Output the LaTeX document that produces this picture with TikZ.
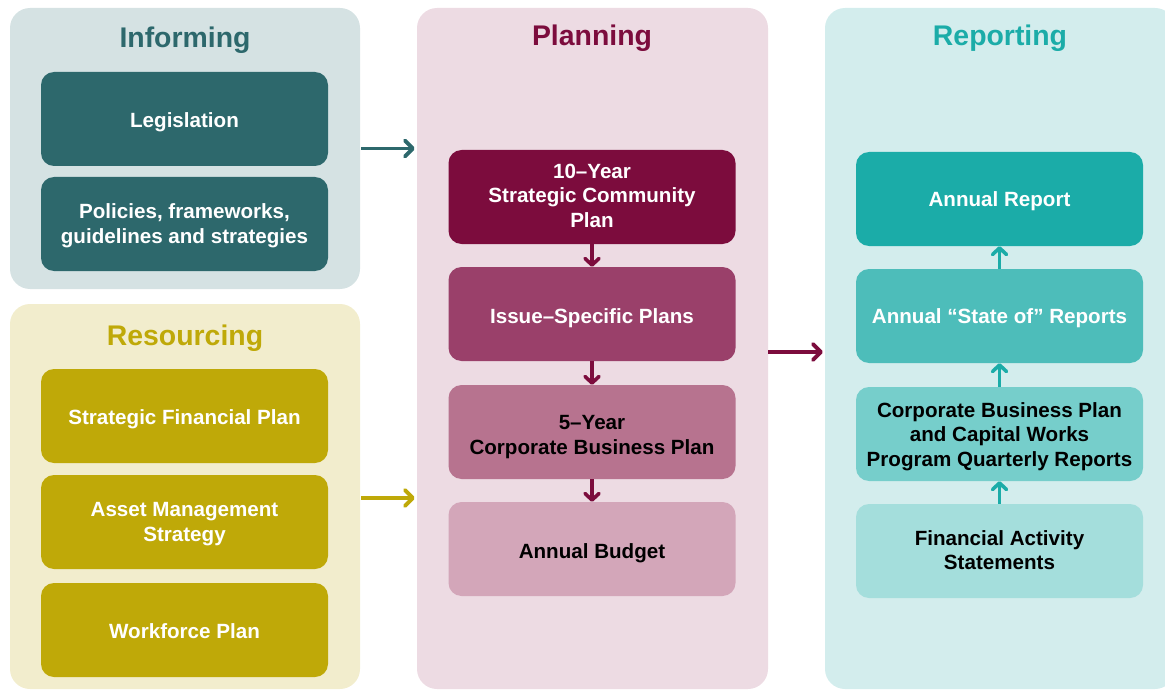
\documentclass[tikz,border=0pt]{standalone}
\usepackage{fontspec}
\setmainfont{Liberation Sans}
\usetikzlibrary{arrows.meta}
\definecolor{infbg}{HTML}{D5E2E3}
\definecolor{infbox}{HTML}{2D686C}
\definecolor{resbg}{HTML}{F2EDCD}
\definecolor{resbox}{HTML}{BFA908}
\definecolor{planbg}{HTML}{EDDBE3}
\definecolor{planA}{HTML}{7C0C3D}
\definecolor{planB}{HTML}{9A406A}
\definecolor{planC}{HTML}{B7738F}
\definecolor{planD}{HTML}{D3A6B9}
\definecolor{repbg}{HTML}{D3EDED}
\definecolor{repA}{HTML}{1BACA8}
\definecolor{repB}{HTML}{4DBDBA}
\definecolor{repC}{HTML}{76CECB}
\definecolor{repD}{HTML}{A4DEDC}
\newcommand\bt[2][3.5pt]{\raisebox{-#1}[\height][\depth]{\begin{tabular}{@{}c@{}}#2\end{tabular}}}
\tikzset{
  panel/.style={rectangle, rounded corners=20pt, inner sep=0pt, minimum width=350pt},
  ttl/.style={font=\fontsize{28.4}{30}\selectfont\bfseries, inner sep=0pt},
  itembox/.style={rectangle, rounded corners=13pt, minimum width=287pt, minimum height=94pt,
     inner sep=0pt, align=center, font=\fontsize{20.6}{24.5}\selectfont\bfseries},
  bigarrow/.style={line width=3.6pt, -{Straight Barb[length=8pt,width=16pt,line width=3.8pt,round]}},
  smallarrow/.style={line width=3.4pt, -{Straight Barb[length=6.5pt,width=14pt,line width=3.6pt,round]}}
}
\begin{document}
\begin{tikzpicture}[x=1pt,y=-1pt]
\useasboundingbox (0,0) rectangle (1165,690);
\clip (0,0) rectangle (1165,690);
% panels
\node[panel, fill=infbg, minimum height=281pt] (inf) at (185,148.5) {};
\node[panel, fill=resbg, minimum height=385pt] (res) at (185,496.5) {};
\node[panel, fill=planbg, minimum width=351pt, minimum height=681pt] (plan) at (592.5,348.5) {};
\node[panel, fill=repbg, minimum height=681pt] (rep) at (1000,348.5) {};
% titles
\node[ttl, text=infbox] (tinf) at (185,40) {Informing};
\node[ttl, text=resbox] (tres) at (185,338) {Resourcing};
\node[ttl, text=planA] (tplan) at (592,38) {Planning};
\node[ttl, text=repA] (trep) at (1000,38) {Reporting};
% informing
\node[itembox, fill=infbox, text=white] (leg) at (184.5,119) {\bt{Legislation}};
\node[itembox, fill=infbox, text=white] (pol) at (184.5,224) {\bt[2pt]{Policies, frameworks,\\guidelines and strategies}};
% resourcing
\node[itembox, fill=resbox, text=white] (sfp) at (184.5,416) {\bt{Strategic Financial Plan}};
\node[itembox, fill=resbox, text=white] (ams) at (184.5,522) {\bt[2pt]{Asset Management\\Strategy}};
\node[itembox, fill=resbox, text=white] (wfp) at (184.5,630) {\bt{Workforce Plan}};
% planning
\node[itembox, fill=planA, text=white] (p1) at (592,197) {\bt[1pt]{10--Year\\Strategic Community\\Plan}};
\node[itembox, fill=planB, text=white] (p2) at (592,314) {\bt[4.5pt]{Issue--Specific Plans}};
\node[itembox, fill=planC, text=black] (p3) at (592,432) {\bt[5pt]{5--Year\\Corporate Business Plan}};
\node[itembox, fill=planD, text=black] (p4) at (592,549) {\bt[4.5pt]{Annual Budget}};
% reporting
\node[itembox, fill=repA, text=white] (r1) at (999.5,199) {\bt[3pt]{Annual Report}};
\node[itembox, fill=repB, text=white] (r2) at (999.5,316) {\bt[3pt]{Annual “State of” Reports}};
\node[itembox, fill=repC, text=black] (r3) at (999.5,434) {\bt[3pt]{Corporate Business Plan\\and Capital Works\\Program Quarterly Reports}};
\node[itembox, fill=repD, text=black] (r4) at (999.5,551) {\bt[1.5pt]{Financial Activity\\Statements}};
% connectors between panels
\draw[bigarrow, draw=infbox] ([xshift=1pt]inf.east) -- ([xshift=-2pt]plan.west |- inf.east);
\draw[bigarrow, draw=resbox] ([xshift=1pt,yshift=-1.5pt]res.east) -- ([xshift=-2pt,yshift=-1.5pt]plan.west |- res.east);
\draw[bigarrow, draw=planA] ([yshift=-3.5pt]plan.east) -- ([xshift=-2pt,yshift=-3.5pt]rep.west |- plan.east);
% planning chain
\draw[smallarrow, draw=planA] (p1.south) -- (p2.north);
\draw[smallarrow, draw=planA] (p2.south) -- (p3.north);
\draw[smallarrow, draw=planA] (p3.south) -- (p4.north);
% reporting chain
\draw[smallarrow, draw=repA] (r4.north) -- (r3.south);
\draw[smallarrow, draw=repA] (r3.north) -- (r2.south);
\draw[smallarrow, draw=repA] (r2.north) -- (r1.south);
\end{tikzpicture}
\end{document}
